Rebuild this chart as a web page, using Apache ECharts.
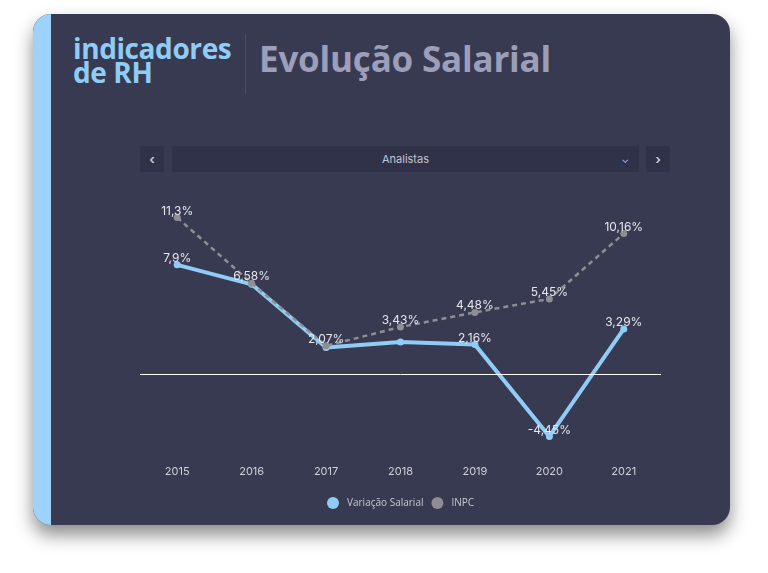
<!DOCTYPE html>
<html>
<head>
<meta charset="utf-8">
<script src="https://cdn.jsdelivr.net/npm/echarts@6/dist/echarts.min.js"></script>
<style>
  html, body { margin: 0; padding: 0; background: #fff; width: 768px; height: 573px; overflow: hidden; }
  .card {
    position: absolute; left: 33px; top: 14px; width: 697px; height: 511px;
    background: #383a51; border-radius: 18px; overflow: hidden;
    box-shadow: 0 10px 18px rgba(0,0,0,0.45);
  }
  .strip { position: absolute; left: 0; top: 0; width: 18px; height: 100%; background: #9dd3fb; }
  .brand {
    position: absolute; left: 40px; top: 22px; color: #8fcdf6;
    font-family: "Open Sans", sans-serif; font-weight: 700; font-size: 28px; line-height: 24px;
    letter-spacing: -0.4px;
  }
  .divider { position: absolute; left: 212px; top: 20px; width: 1px; height: 60px; background: #4a4c63; }
  .title {
    position: absolute; left: 226px; top: 21px; color: #9c9eba;
    font-family: "Open Sans", sans-serif; font-weight: 700; font-size: 35px; letter-spacing: -0.2px;
  }
  .btn, .select {
    position: absolute; top: 132px; height: 26px; background: #30324a; border-radius: 2px;
    color: #c4c4d0; font-family: Inter, sans-serif; font-size: 11px; line-height: 26px; text-align: center;
  }
  .btn { width: 24px; font-size: 13px; font-weight: 700; }
  .select { left: 139px; width: 467px; }
  .caret { position: absolute; right: 10px; top: 0; font-size: 10px; }
  #chart { position: absolute; left: 0; top: 0; width: 768px; height: 573px; }
</style>
</head>
<body>
<div class="card">
  <div class="strip"></div>
  <div class="brand">indicadores<br>de RH</div>
  <div class="divider"></div>
  <div class="title">Evolução Salarial</div>
  <div class="btn" style="left:107px">&lsaquo;</div>
  <div class="select">Analistas<span class="caret">&#8964;</span></div>
  <div class="btn" style="left:613px">&rsaquo;</div>
</div>
<div id="chart"></div>
<script>
// dados
const anos = ['2015', '2016', '2017', '2018', '2019', '2020', '2021'];
const variacaoSalarial = [7.9, 6.5, 1.95, 2.35, 2.16, -4.45, 3.29];
const inpc = [11.3, 6.58, 2.07, 3.43, 4.48, 5.45, 10.16];
// rótulos visíveis da variação salarial (os outros ficam escondidos pelo INPC)
const rotuloSalarial = [true, false, false, false, true, true, true];

var dom = document.getElementById('chart');
var myChart = echarts.init(dom, null, { renderer: 'canvas' });

const fmt = (p) => String(p.value).replace('.', ',') + '%';
const labelBase = { show: true, position: 'top', distance: -3, color: '#e6e6ee', fontSize: 12, formatter: fmt };

var option = {
  backgroundColor: 'transparent',
  textStyle: { fontFamily: 'Inter, sans-serif' },
  grid: { left: 140, right: 107, top: 194, bottom: 115 },
  legend: {
    bottom: 59,
    left: 322,
    icon: 'circle',
    itemWidth: 12,
    itemHeight: 12,
    itemGap: 8,
    textStyle: { color: '#c8c8d4', fontSize: 10, fontFamily: '"Open Sans", sans-serif', padding: [0, 0, 0, 3] },
    data: ['Variação Salarial', 'INPC']
  },
  xAxis: {
    type: 'category',
    data: anos,
    boundaryGap: true,
    axisLine: { show: false },
    axisTick: { show: false },
    axisLabel: { color: '#d0d0da', fontSize: 11, margin: 8 }
  },
  yAxis: {
    type: 'value',
    min: -6,
    max: 13,
    show: false,
    splitLine: { show: false }
  },
  series: [
    {
      name: 'Variação Salarial',
      type: 'line',
      data: variacaoSalarial.map((v, i) => ({ value: v, label: { show: rotuloSalarial[i] } })),
      color: '#90cdf6',
      symbol: 'circle',
      symbolSize: 7,
      lineStyle: { color: '#90cdf6', width: 4 },
      itemStyle: { color: '#90cdf6' },
      label: labelBase,
      markLine: {
        silent: true,
        symbol: 'none',
        label: { show: false },
        lineStyle: { color: '#ffffff', width: 1, type: 'solid' },
        data: [{ yAxis: 0 }]
      },
      z: 2
    },
    {
      name: 'INPC',
      type: 'line',
      data: inpc,
      color: '#8e8e94',
      symbol: 'circle',
      symbolSize: 7,
      lineStyle: { color: '#8e8e94', width: 2.5, type: [5, 4] },
      itemStyle: { color: '#8e8e94' },
      label: labelBase,
      z: 3
    }
  ]
};

if (option && typeof option === 'object') {
  myChart.setOption(option);
}
</script>
</body>
</html>
